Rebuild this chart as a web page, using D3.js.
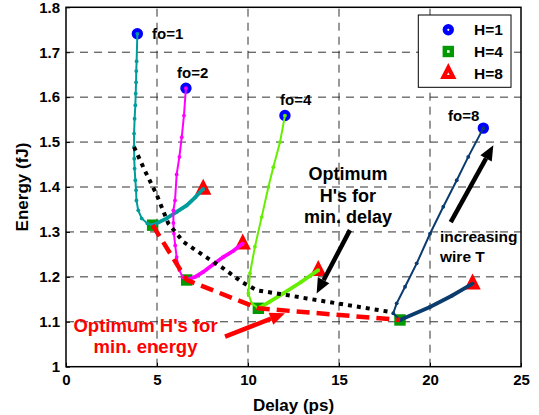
<!DOCTYPE html>
<html>
<head>
<meta charset="utf-8">
<script src="https://cdn.jsdelivr.net/npm/d3@7"></script>
<style>
  body { margin: 0; background: #fff; }
  svg { display: block; }
  text { font-family: "Liberation Sans", Arial, sans-serif; font-weight: bold; }
</style>
</head>
<body>
<svg id="chart" width="539" height="415"></svg>
<script>
const xTicks = [0, 5, 10, 15, 20, 25]
const yTicks = [1, 1.1, 1.2, 1.3, 1.4, 1.5, 1.6, 1.7, 1.8]

// [delay (ps), energy (fJ)] from H=1 down to H=4, then H=4 up to H=8
const fo1Down = [[3.92, 1.741], [3.88, 1.680], [3.86, 1.658], [3.85, 1.633], [3.83, 1.608], [3.81, 1.582],
  [3.77, 1.552], [3.74, 1.519], [3.74, 1.489], [3.75, 1.463], [3.77, 1.441], [3.81, 1.415], [3.85, 1.393],
  [3.87, 1.370], [3.97, 1.348], [4.16, 1.330], [4.47, 1.319], [4.76, 1.315]]
const fo1Up = [[4.76, 1.315], [5.53, 1.330], [6.10, 1.345], [6.63, 1.359], [7.10, 1.377], [7.54, 1.396]]

const fo2Down = [[6.59, 1.620], [6.48, 1.559], [6.36, 1.511], [6.23, 1.467], [6.08, 1.428], [5.99, 1.370],
  [5.90, 1.348], [5.90, 1.320], [5.93, 1.296], [6.00, 1.270], [6.08, 1.244], [6.23, 1.215], [6.41, 1.199],
  [6.63, 1.193]]
const fo2Up = [[6.63, 1.193], [7.10, 1.200], [7.54, 1.211], [8.10, 1.228], [8.64, 1.244], [9.20, 1.258], [9.71, 1.274]]

const fo4Down = [[12.03, 1.559], [11.76, 1.500], [11.39, 1.444], [11.12, 1.400], [10.75, 1.333], [10.38, 1.267],
  [10.11, 1.208], [10.02, 1.163], [10.20, 1.141], [10.57, 1.130]]
const fo4Up = [[10.57, 1.130], [11.20, 1.145], [11.94, 1.163], [12.90, 1.188], [13.86, 1.215]]

const fo8Down = [[22.93, 1.531], [22.10, 1.467], [21.47, 1.415], [20.73, 1.356], [20.00, 1.296], [19.27, 1.230],
  [18.63, 1.178], [18.17, 1.141], [17.98, 1.119], [18.35, 1.104]]
const fo8Up = [[18.35, 1.104], [20.00, 1.133], [21.20, 1.158], [22.34, 1.185]]

const minDelay = [[3.74, 1.489], [4.35, 1.435], [4.98, 1.383], [5.62, 1.319], [6.45, 1.278], [7.54, 1.248],
  [8.64, 1.219], [9.65, 1.189], [10.48, 1.170], [11.76, 1.162], [13.22, 1.152], [17.80, 1.122]]
const minEnergy = [[4.76, 1.315], [6.63, 1.193], [10.57, 1.130], [18.35, 1.104]]

const curves = [
  { name: 'fo=1', color: '#009c9c', down: fo1Down, up: fo1Up, label: [4.73, 1.730] },
  { name: 'fo=2', color: '#ff00ff', down: fo2Down, up: fo2Up, label: [6.10, 1.642] },
  { name: 'fo=4', color: '#66ee00', down: fo4Down, up: fo4Up, label: [11.76, 1.582] },
  { name: 'fo=8', color: '#0b3c6e', down: fo8Down, up: fo8Up, label: [20.99, 1.548] }
]

const legendItems = [
  { label: 'H=1', shape: 'circle', color: '#0000ff' },
  { label: 'H=4', shape: 'square', color: '#009900' },
  { label: 'H=8', shape: 'triangle', color: '#ff0000' }
]

const margin = { top: 7.3, right: 18, bottom: 48.3, left: 66 }
const width = 539
const height = 415

const svg = d3.select('#chart')

const x = d3.scaleLinear().domain([0, 25]).range([margin.left, width - margin.right])
const y = d3.scaleLinear().domain([1, 1.8]).range([height - margin.bottom, margin.top])

// grid
svg.append('g')
  .selectAll('line')
  .data(xTicks.slice(1, -1))
  .enter().append('line')
  .attr('x1', d => x(d)).attr('x2', d => x(d))
  .attr('y1', y(1)).attr('y2', y(1.8))
  .attr('stroke', '#333').attr('stroke-width', 1).attr('stroke-dasharray', '8,6')

svg.append('g')
  .selectAll('line')
  .data(yTicks.slice(1, -1))
  .enter().append('line')
  .attr('x1', x(0)).attr('x2', x(25))
  .attr('y1', d => y(d)).attr('y2', d => y(d))
  .attr('stroke', '#333').attr('stroke-width', 1).attr('stroke-dasharray', '8,6')

// axes
const xAxis = g => g
  .attr('transform', `translate(0, ${y(1)})`)
  .call(d3.axisBottom(x).tickValues(xTicks).tickSize(-4).tickPadding(8).tickFormat(d3.format('d')))
const yAxis = g => g
  .attr('transform', `translate(${x(0)}, 0)`)
  .call(d3.axisLeft(y).tickValues(yTicks).tickSize(-4).tickPadding(6).tickFormat(d => d === 1 ? '1' : d3.format('.1f')(d)))

svg.append('g').call(xAxis)
svg.append('g').call(yAxis)
svg.selectAll('.domain').remove()
svg.selectAll('.tick line').attr('stroke', '#000')
svg.selectAll('.tick text').attr('fill', '#000').style('font-size', '15px').style('font-family', '"Liberation Sans", Arial, sans-serif').style('font-weight', 'bold')

// marker helpers
const drawMarker = (g, shape, color, cx, cy) => {
  if (shape === 'circle') {
    g.append('circle').attr('cx', cx).attr('cy', cy).attr('r', 3.4)
      .attr('fill', '#fff').attr('stroke', color).attr('stroke-width', 4.6)
  } else if (shape === 'square') {
    g.append('rect').attr('x', cx - 3.5).attr('y', cy - 3.5).attr('width', 7).attr('height', 7)
      .attr('fill', '#fff').attr('stroke', color).attr('stroke-width', 4.4)
  } else {
    const s = 9.5
    g.append('path')
      .attr('d', `M${cx},${cy - s * 0.58}L${cx - s / 2},${cy + s * 0.4}L${cx + s / 2},${cy + s * 0.4}Z`)
      .attr('fill', '#fff').attr('stroke', color).attr('stroke-width', 4.2).attr('stroke-linejoin', 'miter')
  }
}

const markers = svg.append('g')
curves.forEach(c => {
  const first = c.down[0]
  const mid = c.up[0]
  const last = c.up[c.up.length - 1]
  drawMarker(markers, 'circle', '#0000ff', x(first[0]), y(first[1]))
  drawMarker(markers, 'square', '#009900', x(mid[0]), y(mid[1]))
  drawMarker(markers, 'triangle', '#ff0000', x(last[0]), y(last[1]))
})

const line = d3.line().x(d => x(d[0])).y(d => y(d[1]))

curves.forEach(c => {
  const g = svg.append('g')
  g.append('path').datum(c.down).attr('d', line)
    .attr('fill', 'none').attr('stroke', c.color).attr('stroke-width', 2)
  g.append('path').datum(c.up).attr('d', line)
    .attr('fill', 'none').attr('stroke', c.color).attr('stroke-width', 3.8)
  g.selectAll('circle')
    .data(c.down.concat(c.up))
    .enter().append('circle')
    .attr('cx', d => x(d[0])).attr('cy', d => y(d[1]))
    .attr('r', 1.9).attr('fill', c.color)
  svg.append('text')
    .attr('x', x(c.label[0])).attr('y', y(c.label[1]))
    .style('font-size', '15px').attr('fill', '#000')
    .text(c.name)
})

// optimum lines
svg.append('path').datum(minDelay).attr('d', line)
  .attr('fill', 'none').attr('stroke', '#000').attr('stroke-width', 4).attr('stroke-dasharray', '4,5')
svg.append('path').datum(minEnergy).attr('d', line)
  .attr('fill', 'none').attr('stroke', '#ff0000').attr('stroke-width', 4.5).attr('stroke-dasharray', '13,7')

// arrows
const arrow = (from, to, color) => {
  const x1 = x(from[0]), y1 = y(from[1]), x2 = x(to[0]), y2 = y(to[1])
  const ang = Math.atan2(y2 - y1, x2 - x1)
  const headLen = 15, headW = 6.5
  const bx = x2 - headLen * Math.cos(ang), by = y2 - headLen * Math.sin(ang)
  svg.append('line').attr('x1', x1).attr('y1', y1).attr('x2', bx).attr('y2', by)
    .attr('stroke', color).attr('stroke-width', 4.5)
  const px = -Math.sin(ang) * headW, py = Math.cos(ang) * headW
  svg.append('path')
    .attr('d', `M${x2},${y2}L${bx + px},${by + py}L${bx - px},${by - py}Z`)
    .attr('fill', color)
}

arrow([15.6, 1.304], [13.77, 1.163], '#000')
arrow([21.14, 1.322], [23.48, 1.493], '#000')
arrow([8.74, 1.067], [12.03, 1.119], '#ff0000')

// annotations
const multiline = (lines, cx, baseline, step, size, color, anchor) => {
  lines.forEach((t, i) => {
    svg.append('text')
      .attr('x', x(cx)).attr('y', y(baseline) + i * step)
      .attr('text-anchor', anchor)
      .style('font-size', size + 'px').attr('fill', color)
      .text(t)
  })
}

multiline(['Optimum', "H's for", 'min. delay'], 15.49, 1.415, 21.5, 18, '#000', 'middle')
multiline(['increasing', 'wire T'], 20.55, 1.278, 20, 15.5, '#000', 'start')
multiline(["Optimum H's for", 'min. energy'], 4.37, 1.078, 21.6, 18.5, '#ff0000', 'middle')

// legend
const legend = svg.append('g')
legend.append('rect')
  .attr('x', 418.3).attr('y', 15).attr('width', 92.7).attr('height', 72.3)
  .attr('fill', '#fff').attr('stroke', '#000').attr('stroke-width', 1)
legendItems.forEach((item, i) => {
  const cy = 29.8 + i * 21.7
  drawMarker(legend, item.shape, item.color, 448.3, cy)
  legend.append('text').attr('x', 474).attr('y', cy + 5.5)
    .style('font-size', '15.5px').attr('fill', '#000').text(item.label)
})

// frame
svg.append('rect')
  .attr('x', x(0)).attr('y', y(1.8)).attr('width', x(25) - x(0)).attr('height', y(1) - y(1.8))
  .attr('fill', 'none').attr('stroke', '#000').attr('stroke-width', 1.5)

// axis titles
svg.append('text')
  .attr('x', (x(0) + x(25)) / 2).attr('y', 411)
  .attr('text-anchor', 'middle').style('font-size', '17px').attr('fill', '#000')
  .text('Delay (ps)')
svg.append('text')
  .attr('transform', `translate(28, ${(y(1) + y(1.8)) / 2}) rotate(-90)`)
  .attr('text-anchor', 'middle').style('font-size', '17px').attr('fill', '#000')
  .text('Energy (fJ)')
</script>
</body>
</html>
